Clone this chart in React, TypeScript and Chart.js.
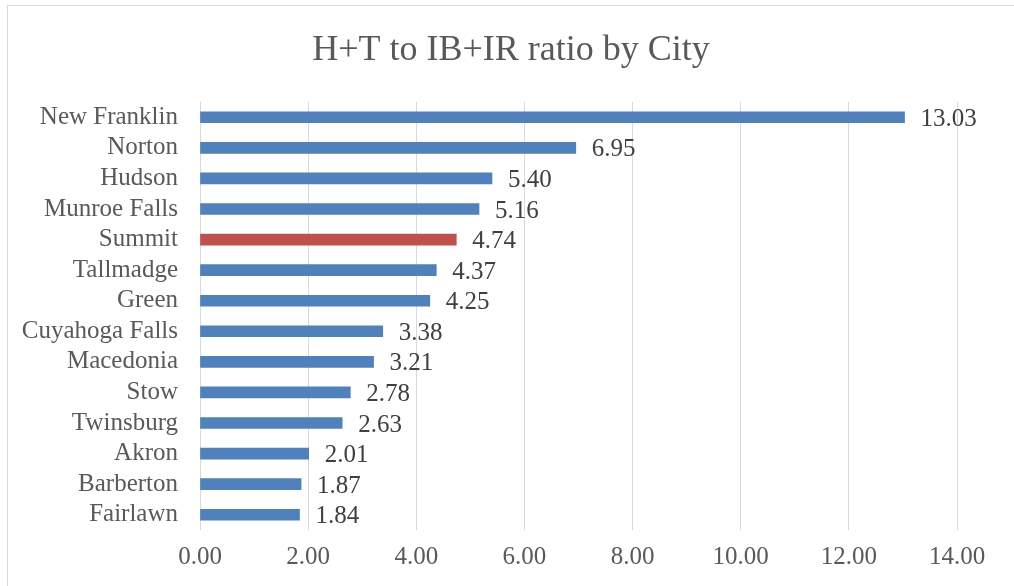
import React, { useEffect, useRef } from "react";
import { Chart, registerables } from "chart.js";

Chart.register(...registerables);

const cities = [
  "New Franklin",
  "Norton",
  "Hudson",
  "Munroe Falls",
  "Summit",
  "Tallmadge",
  "Green",
  "Cuyahoga Falls",
  "Macedonia",
  "Stow",
  "Twinsburg",
  "Akron",
  "Barberton",
  "Fairlawn",
];
const ratios = [13.03, 6.95, 5.4, 5.16, 4.74, 4.37, 4.25, 3.38, 3.21, 2.78, 2.63, 2.01, 1.87, 1.84];
const highlightCity = "Summit";
const titleText = "H+T to IB+IR ratio by City";

const FONT = "'Liberation Serif', 'Times New Roman', serif";

export default function App() {
  const ref = useRef<HTMLCanvasElement | null>(null);

  useEffect(() => {
    if (!ref.current) return;
    const frame = {
      id: "frame",
      beforeDraw(chart: any) {
        const ctx = chart.ctx;
        ctx.save();
        ctx.fillStyle = "#ffffff";
        ctx.fillRect(0, 0, chart.width, chart.height);
        ctx.strokeStyle = "#D9D9D9";
        ctx.lineWidth = 1;
        ctx.strokeRect(7.5, 5.5, chart.width + 20, chart.height + 20);
        ctx.font = `36px ${FONT}`;
        ctx.fillStyle = "#595959";
        ctx.textAlign = "center";
        ctx.textBaseline = "alphabetic";
        ctx.fillText(titleText, 511, 60);
        ctx.restore();
      },
    };
    const valueLabels = {
      id: "valueLabels",
      afterDatasetsDraw(chart: any) {
        const ctx = chart.ctx;
        const meta = chart.getDatasetMeta(0);
        ctx.save();
        ctx.font = `25px ${FONT}`;
        ctx.fillStyle = "#404040";
        ctx.textAlign = "left";
        ctx.textBaseline = "middle";
        meta.data.forEach((bar: any, i: number) => {
          ctx.fillText(ratios[i].toFixed(2), bar.x + 16, bar.y + 2);
        });
        ctx.restore();
      },
    };
    const chart = new Chart(ref.current, {
      type: "bar",
      data: {
        labels: cities,
        datasets: [
          {
            data: ratios,
            backgroundColor: cities.map((c) => (c === highlightCity ? "#C0504D" : "#4F81BD")),
            barThickness: 11,
            borderWidth: 0,
          },
        ],
      },
      options: {
        indexAxis: "y",
        responsive: false,
        animation: false,
        layout: { padding: { left: 0, right: 57, top: 102, bottom: 0 } },
        plugins: {
          legend: { display: false },
          tooltip: { enabled: false },
          title: { display: false },
        },
        scales: {
          x: {
            min: 0,
            max: 14,
            ticks: {
              stepSize: 2,
              color: "#595959",
              padding: 12,
              font: { family: FONT, size: 25 },
              callback: (v: any) => Number(v).toFixed(2),
            },
            grid: { color: "#D9D9D9", lineWidth: 1, drawTicks: false },
            border: { display: false },
            afterFit: (s: any) => {
              s.height = 56;
            },
          },
          y: {
            ticks: {
              color: "#595959",
              padding: 22,
              font: { family: FONT, size: 25 },
              autoSkip: false,
            },
            grid: { display: false, drawTicks: false },
            border: { display: false },
            afterFit: (s: any) => {
              s.width = 200;
            },
          },
        },
      },
      plugins: [frame, valueLabels],
    } as any);
    return () => chart.destroy();
  }, []);

  return (
    <div style={{ position: "absolute", left: 0, top: 0, width: 1014, height: 586 }}>
      <canvas ref={ref} width={1014} height={586} style={{ display: "block" }} />
    </div>
  );
}
